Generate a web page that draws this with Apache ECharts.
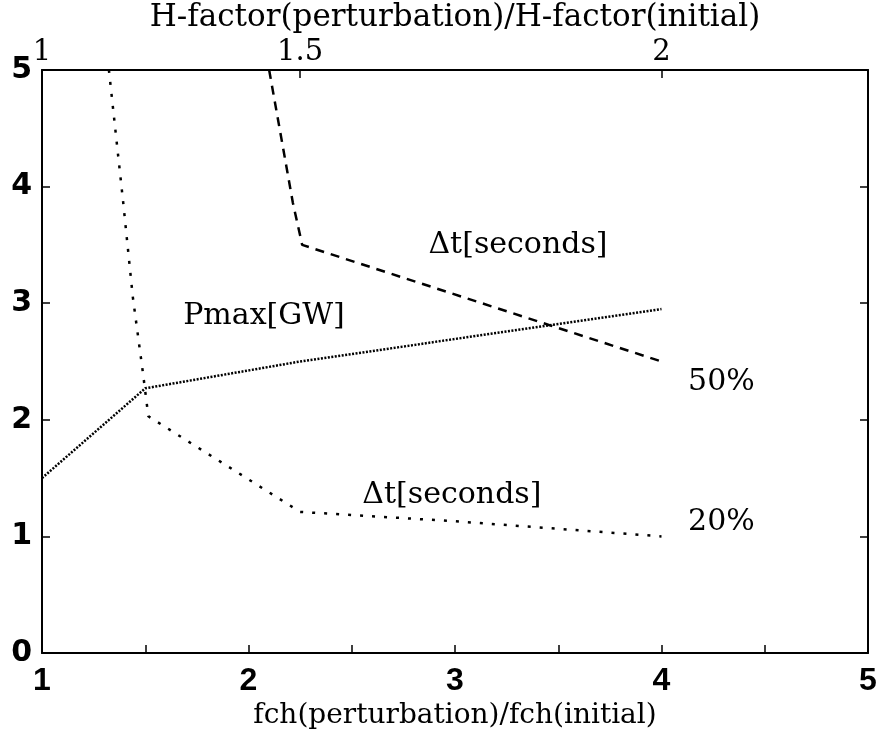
<!DOCTYPE html>
<html><head><meta charset="utf-8">
<script src="https://cdn.jsdelivr.net/npm/echarts@6/dist/echarts.min.js"></script>
<style>html,body{margin:0;padding:0;background:#fff}#chart{width:881px;height:729px}</style>
</head><body><div id="chart"></div>
<script>
// Pmax and Δt versus the fch ratio (bottom axis) and the H-factor ratio (top axis)
const pmaxX = [1.0, 1.5, 2.25, 4.0];
const pmaxY = [1.5, 2.27, 2.5, 2.95];
const dt50X = [2.10, 2.215, 2.26, 4.0];
const dt50Y = [5.0, 3.86, 3.5, 2.5];
const dt20X = [1.324, 1.392, 1.44, 1.489, 1.515, 2.25, 3.0, 4.0];
const dt20Y = [5.0, 3.885, 3.05, 2.4, 2.03, 1.21, 1.13, 1.0];
const hFactorTicks = [1, 1.5, 2];
const noteText = ['Δt[seconds]', 'Pmax[GW]', '50%', 'Δt[seconds]', '20%'];
const noteX = [3.305, 2.075, 4.29, 2.985, 4.29];
const noteY = [3.5, 2.89, 2.32, 1.355, 1.12];

const pairs = (xs, ys) => xs.map((x, i) => [x, ys[i]]);
const serif = 'DejaVu Serif';
const black = '#000';
const axisLine = { show: true, onZero: false, lineStyle: { color: black, width: 2 } };
const tick = { show: true, inside: true, length: 8, lineStyle: { color: black, width: 1.5 } };

const chart = echarts.init(document.getElementById('chart'), null, { renderer: 'canvas' });
chart.setOption({
  animation: false,
  backgroundColor: '#fff',
  grid: { left: 42, right: 13, top: 70, bottom: 76, containLabel: false, outerBoundsMode: 'none' },
  xAxis: [
    {
      type: 'value', position: 'bottom', min: 1, max: 5, interval: 0.5,
      axisLine, axisTick: tick, splitLine: { show: false },
      axisLabel: {
        margin: 12, color: black, fontFamily: 'Liberation Sans', fontWeight: 'bold', fontSize: 32,
        showMinLabel: true, showMaxLabel: true,
        formatter: v => (Number.isInteger(v) ? String(v) : '')
      },
      name: 'fch(perturbation)/fch(initial)', nameLocation: 'middle', nameGap: 40,
      nameTextStyle: { color: black, fontFamily: serif, fontSize: 28 }
    },
    {
      type: 'value', position: 'top', min: 1, max: 5,
      axisLine,
      axisTick: { ...tick, customValues: hFactorTicks.slice(1).map(h => h * h) },
      splitLine: { show: false },
      axisLabel: {
        margin: 3, color: black, fontFamily: serif, fontSize: 29,
        customValues: hFactorTicks.map(h => h * h),
        formatter: v => String(Math.round(Math.sqrt(v) * 100) / 100)
      },
      name: 'H-factor(perturbation)/H-factor(initial)', nameLocation: 'middle', nameGap: 36,
      nameTextStyle: { color: black, fontFamily: serif, fontSize: 31 }
    }
  ],
  yAxis: [
    {
      type: 'value', position: 'left', min: 0, max: 5, interval: 1,
      axisLine, axisTick: tick, splitLine: { show: false },
      axisLabel: { margin: 10, color: black, fontFamily: 'DejaVu Sans', fontWeight: 'bold', fontSize: 30 }
    },
    {
      type: 'value', position: 'right', min: 0, max: 5, interval: 1,
      axisLine, axisTick: tick, splitLine: { show: false }, axisLabel: { show: false }
    }
  ],
  series: [
    {
      name: 'Pmax[GW]', type: 'line', data: pairs(pmaxX, pmaxY), showSymbol: false, symbol: 'none',
      lineStyle: { color: black, width: 2.5, type: [2, 1.5] }
    },
    {
      name: 'Δt 50%', type: 'line', data: pairs(dt50X, dt50Y), showSymbol: false, symbol: 'none',
      lineStyle: { color: black, width: 2.5, type: [9, 7] }
    },
    {
      name: 'Δt 20%', type: 'line', data: pairs(dt20X, dt20Y), showSymbol: false, symbol: 'none',
      lineStyle: { color: black, width: 2.5, type: [3, 9] }
    },
    {
      name: 'notes', type: 'scatter', symbolSize: 0, silent: true,
      itemStyle: { opacity: 1, color: black },
      data: noteText.map((t, i) => ({ name: t, value: [noteX[i], noteY[i]] })),
      label: {
        show: true, position: 'inside', formatter: p => p.name,
        color: black, textBorderWidth: 0, fontFamily: serif, fontSize: 30
      }
    }
  ]
});
</script></body></html>
